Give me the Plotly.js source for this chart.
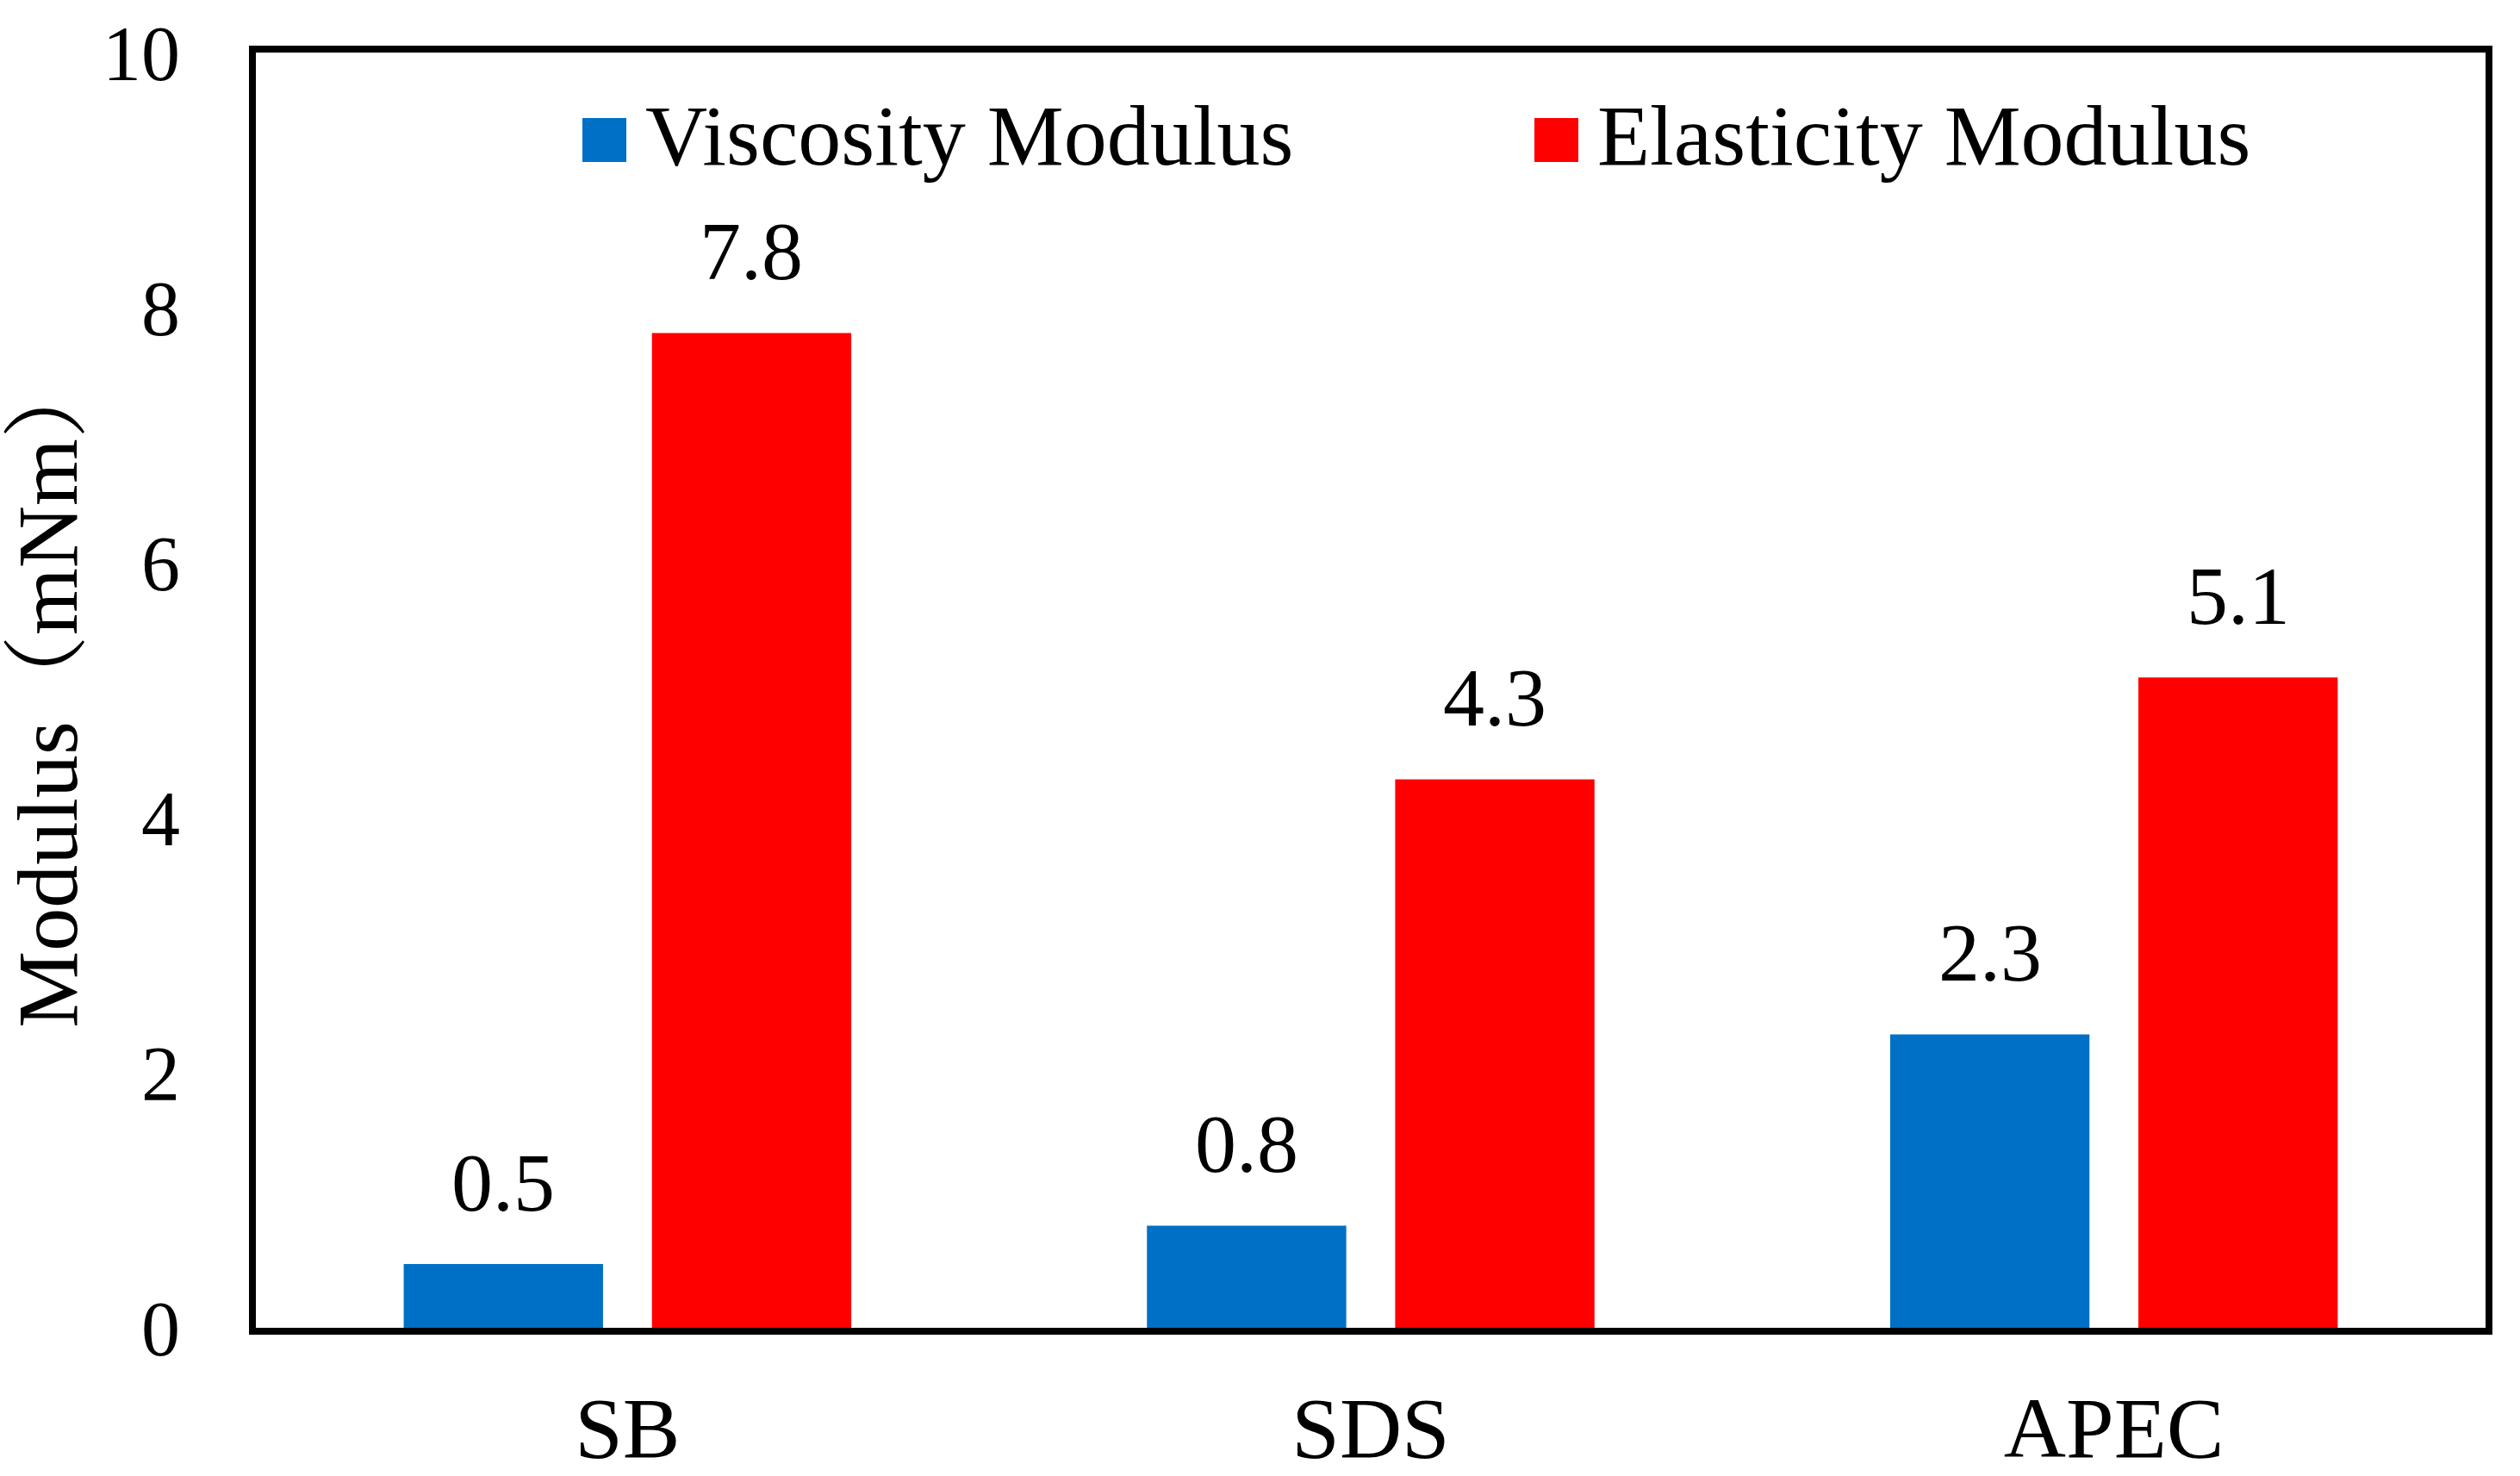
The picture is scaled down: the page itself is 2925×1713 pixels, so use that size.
<!DOCTYPE html>
<html>
<head>
<meta charset="utf-8">
<script src="https://cdn.plot.ly/plotly-3.0.1.min.js"></script>
<style>html,body{margin:0;padding:0;background:#fff;}#chart{width:2925px;height:1713px;}</style>
</head>
<body>
<div id="chart"></div>
<script>
var categories = ['SB', 'SDS', 'APEC'];
var viscosity = [0.5, 0.8, 2.3];
var elasticity = [7.8, 4.3, 5.1];
var seriesNames = ['Viscosity Modulus', 'Elasticity Modulus'];
var yTicks = [0, 2, 4, 6, 8, 10];
var yTitle = 'Modulus（mNm）';

var W = 2925, H = 1713;
var M = {l: 297, r: 40, t: 61, b: 172};
var plotW = W - M.l - M.r, plotH = H - M.t - M.b;
var FONT = 'Liberation Serif, "Times New Roman", "Noto Serif CJK SC", "Noto Sans CJK SC", serif';
var BLUE = '#0070C6', RED = '#FF0000';
var bargap = 0.332, bargroupgap = 0.197;
var slotOffset = (1 - bargap) / 4;

function px2x(px) { return (px - M.l) / plotW; }
function px2y(py) { return (H - M.b - py) / plotH; }

var traces = [
  {type: 'bar', x: categories, y: viscosity, name: seriesNames[0], marker: {color: BLUE}, showlegend: false, hoverinfo: 'none'},
  {type: 'bar', x: categories, y: elasticity, name: seriesNames[1], marker: {color: RED}, showlegend: false, hoverinfo: 'none'}
];

var annotations = [];
[viscosity, elasticity].forEach(function (vals, s) {
  vals.forEach(function (v, i) {
    annotations.push({
      xref: 'x', yref: 'y', x: i + (s === 0 ? -slotOffset : slotOffset), y: v,
      text: v.toFixed(1), showarrow: false, xanchor: 'center', yanchor: 'middle', yshift: 95,
      font: {family: FONT, size: 96, color: '#000'}
    });
  });
});

// legend (drawn manually so the swatches match the reference size)
var legendItems = [
  {swatch: [676, 137, 727, 188], textX: 747, color: BLUE, name: seriesNames[0]},
  {swatch: [1781, 137, 1832, 188], textX: 1852, color: RED, name: seriesNames[1]}
];
var shapes = [];
legendItems.forEach(function (it) {
  shapes.push({type: 'rect', xref: 'paper', yref: 'paper',
    x0: px2x(it.swatch[0]), x1: px2x(it.swatch[2]), y0: px2y(it.swatch[3]), y1: px2y(it.swatch[1]),
    fillcolor: it.color, line: {width: 0}});
  annotations.push({xref: 'paper', yref: 'paper', x: px2x(it.textX), y: px2y(157),
    xanchor: 'left', yanchor: 'middle', showarrow: false, text: it.name,
    font: {family: FONT, size: 100, color: '#000'}});
});

var layout = {
  width: W, height: H,
  margin: M,
  paper_bgcolor: '#fff', plot_bgcolor: '#fff',
  barmode: 'group', bargap: bargap, bargroupgap: bargroupgap,
  showlegend: false,
  xaxis: {
    type: 'category', showgrid: false, zeroline: false,
    showline: true, mirror: true, linecolor: '#000', linewidth: 8,
    ticks: '', ticklabelstandoff: 22,
    tickfont: {family: FONT, size: 100, color: '#000'},
    automargin: false
  },
  yaxis: {
    range: [0, 10], tickvals: yTicks, ticktext: yTicks.map(String),
    showgrid: false, zeroline: false,
    showline: true, mirror: true, linecolor: '#000', linewidth: 8,
    ticks: '', ticklabelstandoff: 62,
    tickfont: {family: FONT, size: 90, color: '#000'},
    title: {text: yTitle, font: {family: FONT, size: 100, color: '#000'}, standoff: 20},
    automargin: false
  },
  annotations: annotations,
  shapes: shapes
};

Plotly.newPlot('chart', traces, layout, {staticPlot: true});
</script>
</body>
</html>
